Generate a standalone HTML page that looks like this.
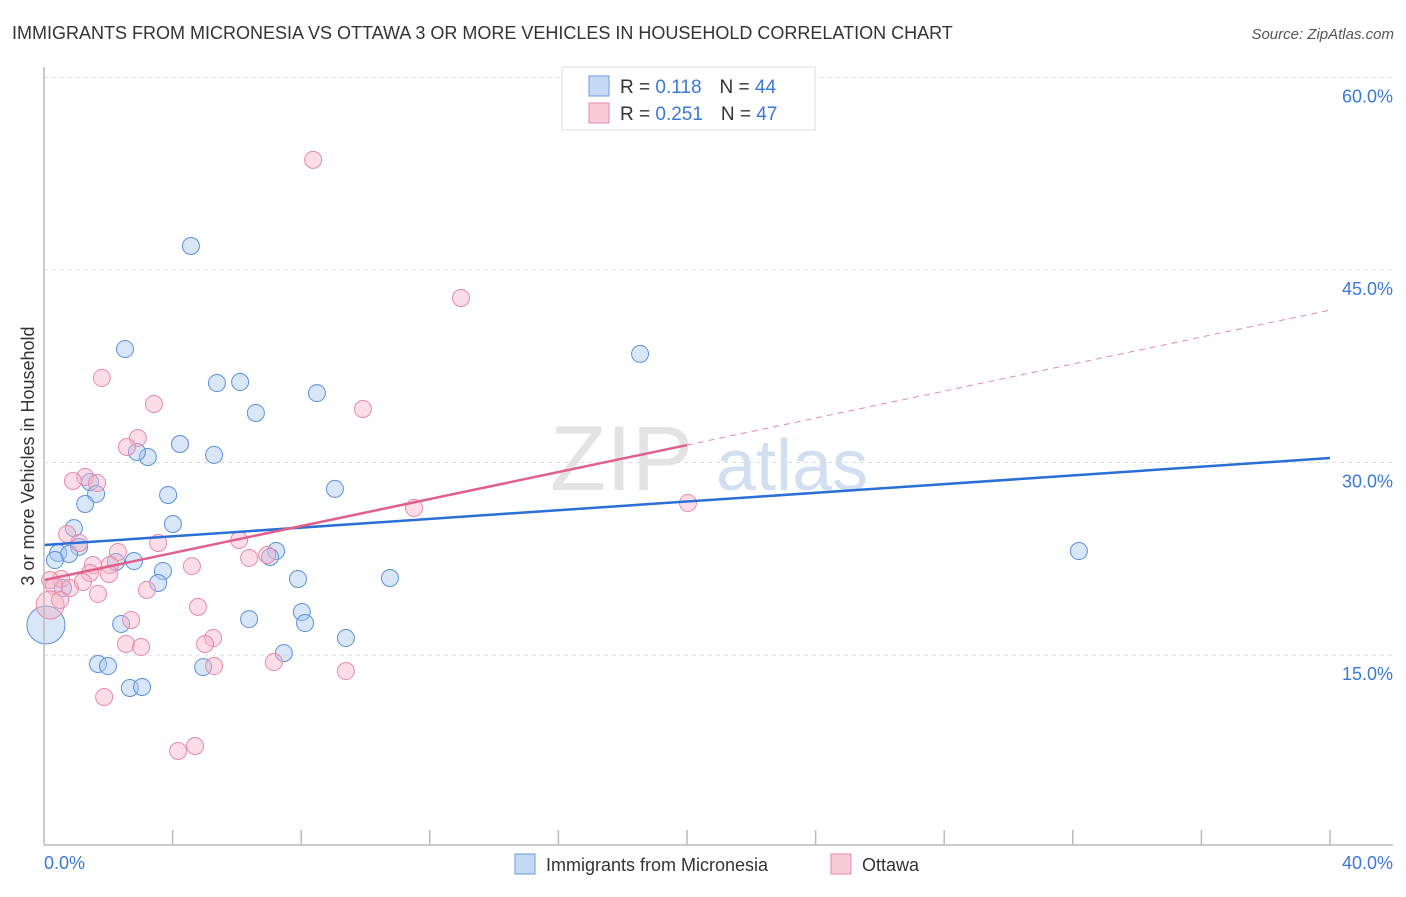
<!DOCTYPE html>
<html><head><meta charset="utf-8"><style>
body{margin:0;background:#fff;font-family:"Liberation Sans",sans-serif}
svg text{font-family:"Liberation Sans",sans-serif}
</style></head><body>
<svg id="c" width="1406" height="892">
<text x="12" y="39" font-size="18" fill="#333">IMMIGRANTS FROM MICRONESIA VS OTTAWA 3 OR MORE VEHICLES IN HOUSEHOLD CORRELATION CHART</text>
<text x="1394" y="39" font-size="15" fill="#555" font-style="italic" text-anchor="end">Source: ZipAtlas.com</text>
<g><text x="550" y="490" font-size="92" fill="#ddd" font-family="Liberation Serif" opacity="0.8">ZIP</text><text x="716" y="490" font-size="72" fill="#c6d8ee" opacity="0.8">atlas</text></g>
<text transform="translate(34,456) rotate(-90)" font-size="18" fill="#333" text-anchor="middle">3 or more Vehicles in Household</text>
<g id="grid"></g><g id="pts"></g><g id="lines"></g>
<line x1="44" y1="67" x2="44" y2="845" stroke="#bbb" stroke-width="1.5"/>
<line x1="44" y1="845" x2="1393" y2="845" stroke="#bbb" stroke-width="1.5"/>
<text x="44" y="869" font-size="18" fill="#3b78d8">0.0%</text>
<text x="1393" y="869" font-size="18" fill="#3b78d8" text-anchor="end">40.0%</text>
<g>
<rect x="562" y="67" width="253" height="63" fill="#fff" stroke="#ddd"/>
<rect x="589" y="76" width="20" height="20" fill="#c5d9f5" stroke="#6a9be0"/>
<rect x="589" y="103" width="20" height="20" fill="#f9cad8" stroke="#e88aa8"/>
<text x="620" y="93" font-size="19" fill="#333">R = <tspan fill="#3b78d8">0.118</tspan><tspan dx="18">N = </tspan><tspan fill="#3b78d8">44</tspan></text>
<text x="620" y="120" font-size="19" fill="#333">R = <tspan fill="#3b78d8">0.251</tspan><tspan dx="18">N = </tspan><tspan fill="#3b78d8">47</tspan></text>
</g>
<g>
<rect x="515" y="854" width="20" height="20" fill="#c5d9f5" stroke="#6a9be0"/>
<text x="546" y="871" font-size="18" fill="#333">Immigrants from Micronesia</text>
<rect x="831" y="854" width="20" height="20" fill="#f9cad8" stroke="#e88aa8"/>
<text x="862" y="871" font-size="18" fill="#333">Ottawa</text>
</g>
</svg>
<script>
const yTicks=[15,30,45,60];
const xTickCount=10;
const blueX=[4.57,2.52,5.38,6.10,8.49,6.59,4.23,3.23,5.29,2.89,1.43,1.62,1.28,3.86,9.05,0.93,4.01,18.54,32.19,1.09,0.44,0.78,0.34,2.24,2.80,7.22,7.03,3.70,3.55,7.90,10.76,0.59,8.02,6.38,8.12,2.40,9.39,7.46,1.68,1.99,4.95,2.67,3.05,0.06];
const blueY=[46.87,38.84,36.19,36.27,35.41,33.86,31.44,30.43,30.59,30.82,28.48,27.55,26.77,27.47,27.94,24.89,25.21,38.46,23.10,23.43,22.95,22.87,22.40,22.25,22.32,23.10,22.64,21.55,20.61,20.92,21.00,20.22,18.35,17.80,17.49,17.42,16.32,15.15,14.30,14.14,14.06,12.43,12.51,17.34];
const pinkX=[8.37,12.97,1.80,3.42,9.92,2.92,2.58,1.28,0.90,1.65,11.51,20.03,0.72,1.09,3.55,2.30,6.07,6.38,6.94,1.52,2.05,1.43,4.60,2.02,0.53,0.19,0.31,0.81,1.21,1.68,3.20,4.79,2.71,2.55,3.02,5.26,5.01,5.29,7.15,9.39,1.87,4.17,4.70,0.19,0.50];
const pinkY=[53.58,42.82,36.59,34.56,34.17,31.91,31.21,28.87,28.56,28.40,26.46,26.84,24.43,23.73,23.73,23.03,23.96,22.56,22.79,22.01,22.01,21.39,21.93,21.31,20.92,20.84,20.38,20.22,20.69,19.76,20.07,18.75,17.73,15.86,15.62,16.32,15.86,14.14,14.45,13.75,11.73,7.52,7.91,18.90,19.29];
const blueTrend=[23.57,30.35];
const pinkTrend=[20.84,41.88];
const pinkSolidEnd=20;
const X=v=>44+v/40*1286, Y=v=>847.5-v/15*192.5;
const NS='http://www.w3.org/2000/svg';
function mk(tag,attrs,parent){const e=document.createElementNS(NS,tag);for(const k in attrs)e.setAttribute(k,attrs[k]);document.getElementById(parent).appendChild(e);return e;}
yTicks.forEach(t=>{
 const l=mk('line',{x1:44,x2:1393,y1:Y(t),y2:Y(t),stroke:'#ddd','stroke-dasharray':'4,4'},'grid');
 
 
 const tx=mk('text',{x:1393,y:Y(t)+25,'font-size':18,fill:'#3b78d8','text-anchor':'end'},'grid');
 tx.textContent=t.toFixed(1)+'%';
 
 
});
for(let i=1;i<=xTickCount;i++){
 const l=mk('line',{x1:X(i*4),x2:X(i*4),y1:830,y2:845,stroke:'#bbb','stroke-width':1.5},'grid');
 
 
}
function pts(xs,ys,fill,stroke,name){xs.forEach((x,i)=>{
 const big=(i===xs.length-1&&name==='blue-point')||(i===xs.length-2&&name==='pink-point');
 const c=mk('circle',{cx:X(x),cy:Y(ys[i]),r:big?(name==='blue-point'?19:14):8.5,fill:fill,'fill-opacity':0.45,stroke:stroke,'stroke-width':1},'pts');
 
 
});}
pts(blueX,blueY,'#a9c7ef','#5b8fdc','blue-point');
pts(pinkX,pinkY,'#f5b3c7','#e88aa8','pink-point');
const bl=mk('line',{x1:X(0),y1:Y(blueTrend[0]),x2:X(40),y2:Y(blueTrend[1]),stroke:'#2a6fd6','stroke-width':2.5},'lines');


const pm=pinkTrend[0]+(pinkTrend[1]-pinkTrend[0])*pinkSolidEnd/40;
const pl=mk('line',{x1:X(0),y1:Y(pinkTrend[0]),x2:X(pinkSolidEnd),y2:Y(pm),stroke:'#e0608a','stroke-width':2.5},'lines');


const pd=mk('line',{x1:X(pinkSolidEnd),y1:Y(pm),x2:X(40),y2:Y(pinkTrend[1]),stroke:'#e88aa8','stroke-width':1,'stroke-dasharray':'6,5'},'lines');


</script>
</body></html>
